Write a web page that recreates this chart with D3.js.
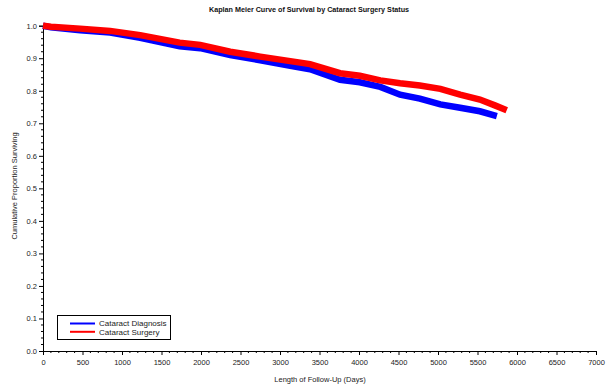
<!DOCTYPE html>
<html>
<head>
<meta charset="utf-8">
<script src="https://cdn.jsdelivr.net/npm/d3@7"></script>
<style>
  html, body { margin: 0; padding: 0; background: #fff; }
  svg { display: block; font-family: "Liberation Sans", Arial, sans-serif; }
</style>
</head>
<body>
<svg id="chart" width="609" height="391"></svg>
<script>
// Kaplan-Meier survival estimates (follow-up day, proportion surviving)
const diagnosisDays = [0, 100, 470, 850, 1230, 1730, 1990, 2370, 2750, 3130, 3380, 3760, 4010, 4270, 4520, 4770, 5030, 5280, 5530, 5745];
const diagnosisSurv = [1.0, 0.995, 0.986, 0.979, 0.963, 0.937, 0.931, 0.910, 0.894, 0.877, 0.866, 0.834, 0.826, 0.812, 0.788, 0.776, 0.758, 0.748, 0.737, 0.722];

const surgeryDays = [0, 100, 470, 850, 1230, 1730, 1990, 2370, 2750, 3130, 3380, 3760, 4010, 4270, 4520, 4770, 5030, 5280, 5530, 5720, 5870];
const surgerySurv = [1.0, 0.997, 0.991, 0.984, 0.971, 0.948, 0.941, 0.920, 0.905, 0.891, 0.882, 0.854, 0.846, 0.832, 0.823, 0.816, 0.806, 0.788, 0.773, 0.755, 0.740];

const groupNames = ["Cataract Diagnosis", "Cataract Surgery"];
const groupColors = ["#0000ff", "#ff0000"];

const xTicks = [0, 500, 1000, 1500, 2000, 2500, 3000, 3500, 4000, 4500, 5000, 5500, 6000, 6500, 7000];
const yTicks = [0, 0.1, 0.2, 0.3, 0.4, 0.5, 0.6, 0.7, 0.8, 0.9, 1.0];

const titleText = "Kaplan Meier Curve of Survival by Cataract Surgery Status";
const xTitle = "Length of Follow-Up (Days)";
const yTitle = "Cumulative Proportion Surviving";

const svg = d3.select("#chart");
const x = d3.scaleLinear().domain([0, 7000]).range([43, 596]);
const y = d3.scaleLinear().domain([0, 1]).range([351, 25.7]);

// minor ticks
const xMinor = d3.range(0, 7001, 100).filter(v => v % 500 !== 0);
const yMinor = d3.range(0, 51).map(i => i / 50).filter((v, i) => i % 5 !== 0);

const gx = svg.append("g").attr("transform", `translate(0,${y(0)})`);
gx.call(d3.axisBottom(x).tickValues(xTicks).tickFormat(d3.format("d")).tickSizeOuter(0).tickSize(4).tickPadding(5));
gx.selectAll("line.minor").data(xMinor).enter().append("line")
  .attr("x1", d => x(d)).attr("x2", d => x(d)).attr("y1", 0).attr("y2", 2).attr("stroke", "#000");

const gy = svg.append("g").attr("transform", `translate(${x(0)},0)`);
gy.call(d3.axisLeft(y).tickValues(yTicks).tickFormat(d3.format(".1f")).tickSizeOuter(0).tickSize(4).tickPadding(2));
gy.selectAll("line.minor").data(yMinor).enter().append("line")
  .attr("x1", -2).attr("x2", 0).attr("y1", d => y(d)).attr("y2", d => y(d)).attr("stroke", "#000");

svg.selectAll(".domain").attr("stroke", "#000");
svg.selectAll(".tick line").attr("stroke", "#000");
svg.selectAll(".tick text").attr("font-size", 7.5).attr("fill", "#222")
  .attr("font-family", "'Liberation Sans', Arial, sans-serif");

// survival bands
const line = d3.line().x(d => x(d[0])).y(d => y(d[1])).curve(d3.curveLinear);
const series = [
  d3.zip(diagnosisDays, diagnosisSurv),
  d3.zip(surgeryDays, surgerySurv)
];
series.forEach((pts, i) => {
  svg.append("path").datum(pts)
    .attr("d", line)
    .attr("fill", "none")
    .attr("stroke", groupColors[i])
    .attr("stroke-width", 6.5)
    .attr("stroke-linejoin", "miter");
});

// titles
svg.append("text").attr("x", 309).attr("y", 11.5).attr("text-anchor", "middle")
  .attr("font-size", 7.2).attr("font-weight", "bold").attr("fill", "#111").text(titleText);
svg.append("text").attr("x", 320).attr("y", 382).attr("text-anchor", "middle")
  .attr("font-size", 7.5).attr("fill", "#222").text(xTitle);
svg.append("text").attr("transform", "translate(16.5,186) rotate(-90)").attr("text-anchor", "middle")
  .attr("font-size", 7.5).attr("fill", "#222").text(yTitle);

// legend
const lg = svg.append("g");
lg.append("rect").attr("x", 57.5).attr("y", 315.5).attr("width", 113).attr("height", 24)
  .attr("fill", "#fff").attr("stroke", "#000").attr("stroke-width", 1);
groupNames.forEach((name, i) => {
  const yy = 323.5 + i * 8.3;
  lg.append("line").attr("x1", 70).attr("x2", 95).attr("y1", yy).attr("y2", yy)
    .attr("stroke", groupColors[i]).attr("stroke-width", 2);
  lg.append("text").attr("x", 99).attr("y", yy + 2.8).attr("font-size", 8).attr("fill", "#222").text(name);
});
</script>
</body>
</html>
